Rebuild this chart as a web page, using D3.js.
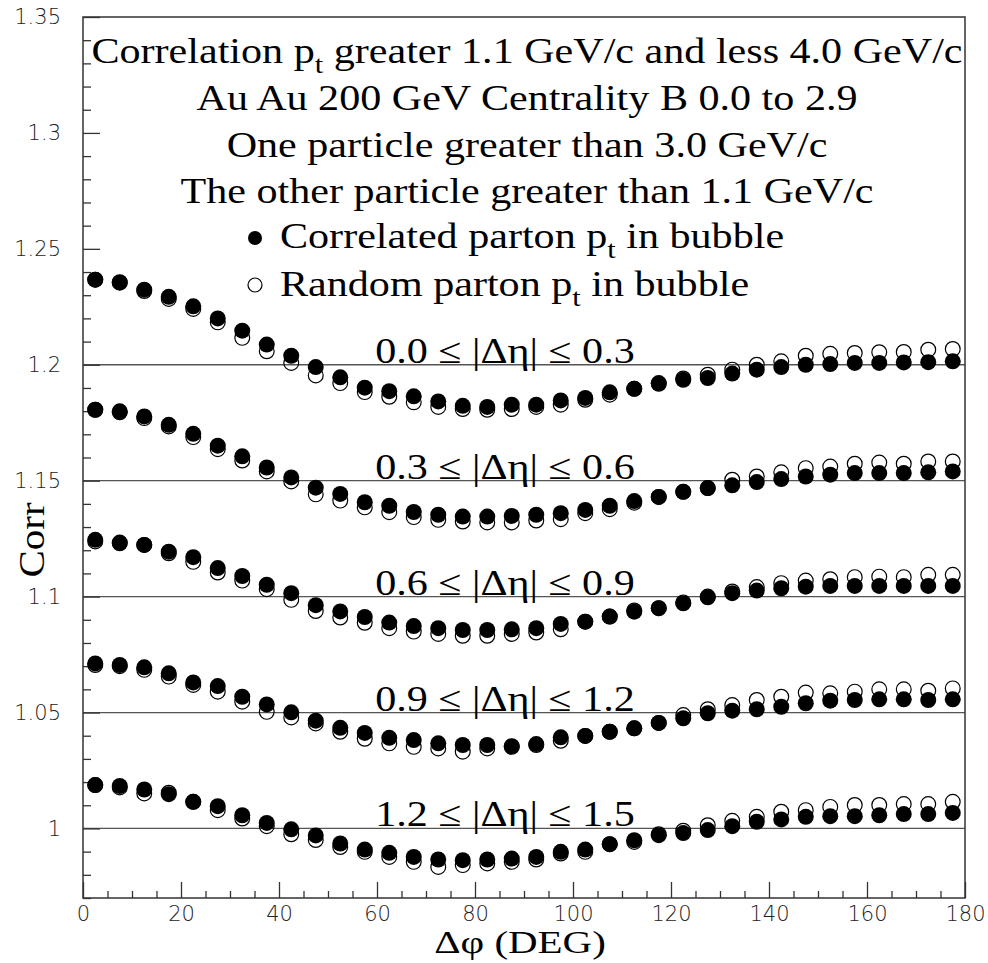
<!DOCTYPE html>
<html><head><meta charset="utf-8">
<script src="https://cdn.jsdelivr.net/npm/d3@7"></script>
<style>body{margin:0;background:#fff}</style>
</head><body>
<svg id="chart" width="988" height="963"></svg>
<script>
// ---------- data ----------
const dphi = [2.5,7.5,12.5,17.5,22.5,27.5,32.5,37.5,42.5,47.5,52.5,57.5,62.5,67.5,72.5,77.5,82.5,87.5,
  92.5,97.5,102.5,107.5,112.5,117.5,122.5,127.5,132.5,137.5,142.5,147.5,152.5,157.5,162.5,167.5,172.5,177.5];

const etaLabels = ["0.0 \u2264 |\u0394\u03b7| \u2264 0.3","0.3 \u2264 |\u0394\u03b7| \u2264 0.6","0.6 \u2264 |\u0394\u03b7| \u2264 0.9",
  "0.9 \u2264 |\u0394\u03b7| \u2264 1.2","1.2 \u2264 |\u0394\u03b7| \u2264 1.5"];
const etaLines = [1.2, 1.15, 1.1, 1.05, 1.0];

const corr1 = [1.2367,1.2356,1.2324,1.2293,1.2252,1.2200,1.2147,1.2087,1.2039,1.1990,1.1946,1.1901,1.1886,1.1864,1.1842,1.1823,1.1818,1.1828,
  1.1828,1.1846,1.1857,1.1881,1.1896,1.1918,1.1935,1.1943,1.1962,1.1979,1.1990,1.2000,1.2003,1.2008,1.2008,1.2010,1.2011,1.2015];
const rand1 = [1.2367,1.2354,1.2318,1.2284,1.2241,1.2183,1.2116,1.2058,1.2008,1.1954,1.1921,1.1882,1.1862,1.1838,1.1818,1.1809,1.1806,1.1809,
  1.1818,1.1828,1.1849,1.1871,1.1896,1.1921,1.1941,1.1957,1.1979,1.2000,1.2015,1.2039,1.2047,1.2051,1.2054,1.2055,1.2065,1.2068];
const corr2 = [1.1806,1.1799,1.1777,1.1741,1.1702,1.1651,1.1605,1.1557,1.1514,1.1470,1.1443,1.1407,1.1392,1.1365,1.1353,1.1345,1.1345,1.1348,
  1.1353,1.1360,1.1374,1.1392,1.1412,1.1430,1.1452,1.1468,1.1480,1.1494,1.1507,1.1518,1.1526,1.1533,1.1533,1.1533,1.1536,1.1540];
const rand2 = [1.1806,1.1795,1.1770,1.1734,1.1688,1.1636,1.1587,1.1540,1.1497,1.1441,1.1414,1.1385,1.1364,1.1343,1.1331,1.1324,1.1320,1.1320,
  1.1328,1.1334,1.1360,1.1377,1.1405,1.1430,1.1452,1.1468,1.1504,1.1518,1.1536,1.1554,1.1561,1.1573,1.1578,1.1573,1.1583,1.1583];
const corr3 = [1.1245,1.1233,1.1223,1.1194,1.1170,1.1123,1.1089,1.1051,1.1015,1.0963,1.0936,1.0912,1.0888,1.0873,1.0864,1.0856,1.0856,1.0859,
  1.0864,1.0882,1.0892,1.0914,1.0935,1.0950,1.0971,1.0997,1.1015,1.1026,1.1036,1.1043,1.1046,1.1046,1.1046,1.1046,1.1046,1.1046];
const rand3 = [1.1238,1.1230,1.1223,1.1187,1.1150,1.1104,1.1069,1.1032,1.0986,1.0938,1.0910,1.0887,1.0864,1.0849,1.0839,1.0831,1.0831,1.0839,
  1.0845,1.0859,1.0892,1.0914,1.0940,1.0950,1.0975,1.1000,1.1022,1.1041,1.1058,1.1069,1.1075,1.1084,1.1086,1.1084,1.1094,1.1094];
const corr4 = [1.0712,1.0705,1.0695,1.0669,1.0630,1.0614,1.0568,1.0535,1.0501,1.0465,1.0434,1.0412,1.0391,1.0381,1.0367,1.0360,1.0360,1.0355,
  1.0364,1.0393,1.0399,1.0417,1.0432,1.0455,1.0475,1.0497,1.0508,1.0514,1.0525,1.0540,1.0551,1.0554,1.0557,1.0557,1.0554,1.0557];
const rand4 = [1.0705,1.0700,1.0684,1.0655,1.0619,1.0590,1.0547,1.0503,1.0479,1.0453,1.0417,1.0387,1.0367,1.0352,1.0345,1.0331,1.0345,1.0352,
  1.0360,1.0378,1.0399,1.0417,1.0432,1.0455,1.0489,1.0514,1.0532,1.0554,1.0568,1.0586,1.0583,1.0590,1.0600,1.0600,1.0594,1.0604];
const corr5 = [1.0187,1.0183,1.0168,1.0148,1.0115,1.0096,1.0057,1.0024,0.9996,0.9970,0.9935,0.9909,0.9895,0.9877,0.9866,0.9863,0.9866,0.9870,
  0.9877,0.9899,0.9909,0.9932,0.9949,0.9971,0.9980,0.9993,1.0010,1.0029,1.0039,1.0050,1.0053,1.0053,1.0057,1.0062,1.0062,1.0067];
const rand5 = [1.0187,1.0177,1.0151,1.0154,1.0115,1.0079,1.0043,1.0010,0.9975,0.9950,0.9920,0.9899,0.9877,0.9856,0.9834,0.9842,0.9849,0.9856,
  0.9866,0.9892,0.9899,0.9932,0.9942,0.9975,0.9990,1.0014,1.0033,1.0050,1.0072,1.0079,1.0093,1.0101,1.0101,1.0105,1.0105,1.0115];

const corrSeries = [corr1, corr2, corr3, corr4, corr5];
const randSeries = [rand1, rand2, rand3, rand4, rand5];

const yMajorTicks = [1.0, 1.05, 1.1, 1.15, 1.2, 1.25, 1.3, 1.35];
const yTickLabels = ["1", "1.05", "1.1", "1.15", "1.2", "1.25", "1.3", "1.35"];
const yMinorTicks = [0.97,0.98,0.99,1.01,1.02,1.03,1.04,1.06,1.07,1.08,1.09,1.11,1.12,1.13,1.14,1.16,1.17,1.18,1.19,
  1.21,1.22,1.23,1.24,1.26,1.27,1.28,1.29,1.31,1.32,1.33,1.34];
const xMajorTicks = [0,20,40,60,80,100,120,140,160,180];
const xMinorTicks = [5,10,15,25,30,35,45,50,55,65,70,75,85,90,95,105,110,115,125,130,135,145,150,155,165,170,175];

const titleLines = [
  ["Correlation p", "t", " greater 1.1 GeV/c and less 4.0 GeV/c"],
  ["Au Au 200 GeV Centrality B 0.0 to 2.9"],
  ["One particle greater than 3.0 GeV/c"],
  ["The other particle greater than 1.1 GeV/c"]
];
const legendLabels = [["Correlated parton p", "t", " in bubble"], ["Random parton p", "t", " in bubble"]];
const xTitle = "\u0394\u03c6 (DEG)";
const yTitle = "Corr";

// ---------- layout ----------
const W = 988, H = 963;
const m = {left: 83, top: 17, right: 23, bottom: 65};
const svg = d3.select("#chart");
const x = d3.scaleLinear().domain([0, 180]).range([m.left, W - m.right]);
const y = d3.scaleLinear().domain([0.97, 1.35]).range([H - m.bottom, m.top]);
const serif = "'Liberation Serif','Times New Roman',serif";
const sans = "'DejaVu Sans',sans-serif";
const STRETCH = 1.17;
const FS = 36;

// reference lines
svg.append("g").selectAll("line").data(etaLines).join("line")
  .attr("x1", x(0)).attr("x2", x(180))
  .attr("y1", d => y(d)).attr("y2", d => y(d))
  .attr("stroke", "#555").attr("stroke-width", 1.3);

// axes
const yAxisMajor = d3.axisLeft(y).tickValues(yMajorTicks).tickSizeInner(-17).tickSizeOuter(0).tickPadding(22)
  .tickFormat((d, i) => yTickLabels[i]);
const gy = svg.append("g").attr("transform", `translate(${m.left},0)`).call(yAxisMajor);
gy.select(".domain").remove();
gy.selectAll("line").attr("stroke", "#333").attr("stroke-width", 1.3);
gy.selectAll("text").attr("font-family", sans).attr("font-weight", 200).attr("font-size", 21).attr("fill", "#222");

const gym = svg.append("g").attr("transform", `translate(${m.left},0)`)
  .call(d3.axisLeft(y).tickValues(yMinorTicks).tickSizeInner(-8).tickSizeOuter(0).tickFormat(""));
gym.select(".domain").remove();
gym.selectAll("line").attr("stroke", "#333").attr("stroke-width", 1.3);

const xAxisMajor = d3.axisBottom(x).tickValues(xMajorTicks).tickSizeInner(-16).tickSizeOuter(0).tickPadding(8)
  .tickFormat(d3.format("d"));
const gx = svg.append("g").attr("transform", `translate(0,${H - m.bottom})`).call(xAxisMajor);
gx.select(".domain").remove();
gx.selectAll("line").attr("stroke", "#333").attr("stroke-width", 1.3);
gx.selectAll("text").attr("font-family", sans).attr("font-weight", 200).attr("font-size", 21).attr("fill", "#222");

const gxm = svg.append("g").attr("transform", `translate(0,${H - m.bottom})`)
  .call(d3.axisBottom(x).tickValues(xMinorTicks).tickSizeInner(-7).tickSizeOuter(0).tickFormat(""));
gxm.select(".domain").remove();
gxm.selectAll("line").attr("stroke", "#333").attr("stroke-width", 1.3);

// frame
svg.append("rect").attr("x", x(0)).attr("y", y(1.35)).attr("width", x(180) - x(0)).attr("height", y(0.97) - y(1.35))
  .attr("fill", "none").attr("stroke", "#333").attr("stroke-width", 1.5);

// points
const R = 8;
randSeries.forEach((ser, k) => {
  svg.append("g").selectAll("circle").data(ser).join("circle")
    .attr("cx", (d, i) => x(dphi[i])).attr("cy", d => y(d)).attr("r", R - 0.6)
    .attr("fill", "none").attr("stroke", "#000").attr("stroke-width", 1.2);
  svg.append("g").selectAll("circle").data(corrSeries[k]).join("circle")
    .attr("cx", (d, i) => x(dphi[i])).attr("cy", d => y(d)).attr("r", R)
    .attr("fill", "#000");
});

// helper: text with subscript
function richText(g, parts, size) {
  const t = g.append("text").attr("font-family", serif).attr("font-size", size).attr("fill", "#000");
  parts.forEach((p, i) => {
    const sub = (parts.length === 3 && i === 1);
    const ts = t.append("tspan").text(p);
    if (sub) ts.attr("font-size", size * 0.72).attr("dy", size * 0.27);
    else if (i === 2) ts.attr("dy", -size * 0.27);
  });
  return t;
}

// eta labels
etaLabels.forEach((lab, k) => {
  const g = svg.append("g").attr("transform", `translate(505,${y(etaLines[k]) - 2}) scale(${STRETCH},1)`);
  g.append("text").attr("text-anchor", "middle").attr("font-family", serif).attr("font-size", FS).text(lab);
});

// title lines
const titleY = [63, 110, 157, 203];
titleLines.forEach((parts, k) => {
  const g = svg.append("g").attr("transform", `translate(527,${titleY[k]}) scale(${STRETCH},1)`);
  richText(g, parts, FS).attr("text-anchor", "middle");
});

// legend
const legY = [248, 296];
legendLabels.forEach((parts, k) => {
  const g = svg.append("g").attr("transform", `translate(280,${legY[k]}) scale(${STRETCH},1)`);
  richText(g, parts, FS);
});
svg.append("circle").attr("cx", 255).attr("cy", 238).attr("r", 7).attr("fill", "#000");
svg.append("circle").attr("cx", 255).attr("cy", 285).attr("r", 7).attr("fill", "none").attr("stroke", "#000").attr("stroke-width", 1.2);

// axis titles
svg.append("g").attr("transform", `translate(520,953) scale(1.28,1)`)
  .append("text").attr("text-anchor", "middle").attr("font-family", serif).attr("font-size", 32).text(xTitle);
svg.append("g").attr("transform", `translate(44,540) rotate(-90) scale(${STRETCH},1)`)
  .append("text").attr("text-anchor", "middle").attr("font-family", serif).attr("font-size", 35).text(yTitle);
</script>
</body></html>
